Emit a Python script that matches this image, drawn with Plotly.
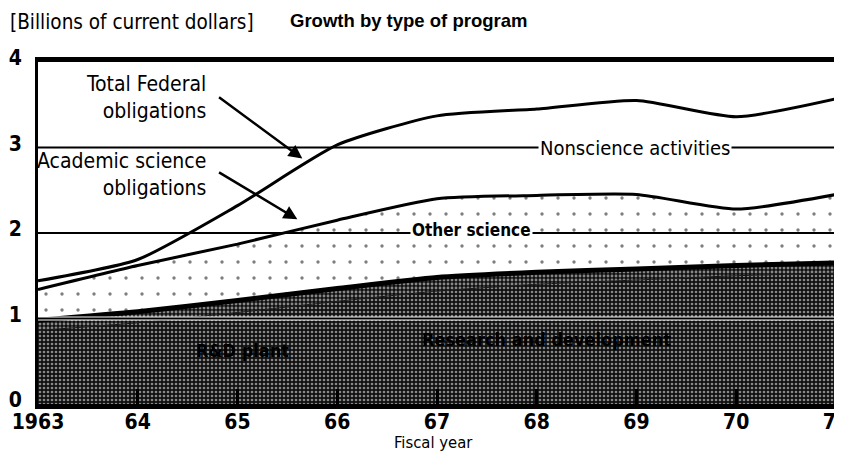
import plotly.graph_objects as go

# fiscal years 1963-1971
years = [1963, 1964, 1965, 1966, 1967, 1968, 1969, 1970, 1971]
tick_labels = ["1963", "64", "65", "66", "67", "68", "69", "70", "71"]

# billions of current dollars
research_dev = [0.86, 0.95, 1.07, 1.20, 1.32, 1.40, 1.45, 1.50, 1.53]
rd_plant = [0.12, 0.13, 0.14, 0.15, 0.16, 0.14, 0.13, 0.12, 0.12]
academic_science = [1.34, 1.62, 1.87, 2.15, 2.40, 2.44, 2.45, 2.28, 2.45]
total_federal = [1.44, 1.69, 2.32, 3.03, 3.37, 3.45, 3.55, 3.36, 3.57]

cond = "DejaVu Sans Condensed"
science_top = [a + b for a, b in zip(research_dev, rd_plant)]
spl = dict(shape="spline", smoothing=0.6)

fig = go.Figure()
fig.add_trace(go.Scatter(
    x=years, y=research_dev, mode="lines", fill="tozeroy",
    line=dict(color="#151515", width=1, **spl),
    fillcolor="#151515",
    fillpattern=dict(shape=".", bgcolor="#101010", fgcolor="white", size=4, solidity=0.35),
))
fig.add_trace(go.Scatter(
    x=years, y=science_top, mode="lines", fill="tonexty",
    line=dict(color="black", width=5, **spl),
    fillcolor="#151515",
    fillpattern=dict(shape=".", bgcolor="#101010", fgcolor="white", size=4, solidity=0.4),
))
fig.add_trace(go.Scatter(
    x=years, y=academic_science, mode="lines", fill="tonexty",
    line=dict(color="black", width=3, **spl),
    fillcolor="white",
    fillpattern=dict(shape=".", bgcolor="white", fgcolor="black", size=16, solidity=0.035),
))
fig.add_trace(go.Scatter(
    x=years, y=total_federal, mode="lines",
    line=dict(color="black", width=3, **spl),
))

# horizontal rules at 1, 2, 3 drawn over the areas
fig.add_shape(type="line", xref="x", yref="y", x0=1963, x1=1971, y0=1, y1=1,
              line=dict(color="white", width=4), layer="above")
for v in [1, 2, 3]:
    fig.add_shape(type="line", xref="x", yref="y", x0=1963, x1=1971, y0=v, y1=v,
                  line=dict(color="black", width=1.8), layer="above")

label_font = dict(family=cond, size=21, color="black")
fig.add_annotation(x=1964.70, y=3.58, text="Total Federal<br>obligations", showarrow=False,
                   xanchor="right", align="right", font=label_font)
fig.add_annotation(x=1964.70, y=2.69, text="Academic science<br>obligations", showarrow=False,
                   xanchor="right", align="right", font=label_font)
fig.add_annotation(x=1965.65, y=2.87, ax=1964.80, ay=3.6, xref="x", yref="y", axref="x", ayref="y",
                   text="", showarrow=True, arrowhead=2, arrowsize=1.1, arrowwidth=2.5, arrowcolor="black")
fig.add_annotation(x=1965.60, y=2.16, ax=1964.80, ay=2.72, xref="x", yref="y", axref="x", ayref="y",
                   text="", showarrow=True, arrowhead=2, arrowsize=1.1, arrowwidth=2.5, arrowcolor="black")
fig.add_annotation(x=1968.98, y=2.99, text="Nonscience activities", showarrow=False,
                   bgcolor="white", font=dict(family=cond, size=20, color="black"))
fig.add_annotation(x=1967.35, y=2.03, text="<b>Other science</b>", showarrow=False,
                   bgcolor="white", font=dict(family=cond, size=17, color="black"))
fig.add_annotation(x=1965.05, y=0.62, text="<b>R&D plant</b>", showarrow=False,
                   font=dict(family=cond, size=18, color="black"))
fig.add_annotation(x=1968.1, y=0.75, text="<b>Research and development</b>", showarrow=False,
                   font=dict(family=cond, size=18, color="black"))

fig.add_annotation(xref="paper", yref="paper", x=-0.0376, y=1.117, xanchor="left", yanchor="middle",
                   text="[Billions of current dollars]", showarrow=False,
                   font=dict(family=cond, size=20.5, color="black"))
fig.add_annotation(xref="paper", yref="paper", x=0.464, y=1.12, xanchor="center", yanchor="middle",
                   text="<b>Growth by type of program</b>", showarrow=False,
                   font=dict(family="Liberation Sans", size=18.5, color="black"))
fig.add_annotation(xref="paper", yref="paper", x=0.495, y=-0.113, xanchor="center", yanchor="middle",
                   text="Fiscal year", showarrow=False,
                   font=dict(family=cond, size=16.5, color="black"))

fig.update_xaxes(range=[1963, 1971], tickvals=years, ticktext=tick_labels,
                 ticks="inside", ticklen=15, tickwidth=3, tickcolor="black",
                 ticklabelstandoff=-5, automargin=False,
                 showgrid=False, zeroline=False, showline=True, linecolor="black",
                 linewidth=5, mirror=True,
                 tickfont=dict(family=cond, size=21, color="black", weight="bold"))
fig.update_yaxes(range=[0, 4], tickvals=[0, 1, 2, 3, 4], ticks="", ticklabelstandoff=9,
                 ticklabelshift=-4, automargin=False,
                 showgrid=False, zeroline=False, showline=True, linecolor="black",
                 linewidth=3, mirror=True,
                 tickfont=dict(family=cond, size=21, color="black", weight="bold"))

fig.update_layout(
    width=842, height=453,
    margin=dict(l=30, r=14, t=54, b=57),
    plot_bgcolor="white", paper_bgcolor="white",
    showlegend=False,
)

fig.write_html("out.html")
